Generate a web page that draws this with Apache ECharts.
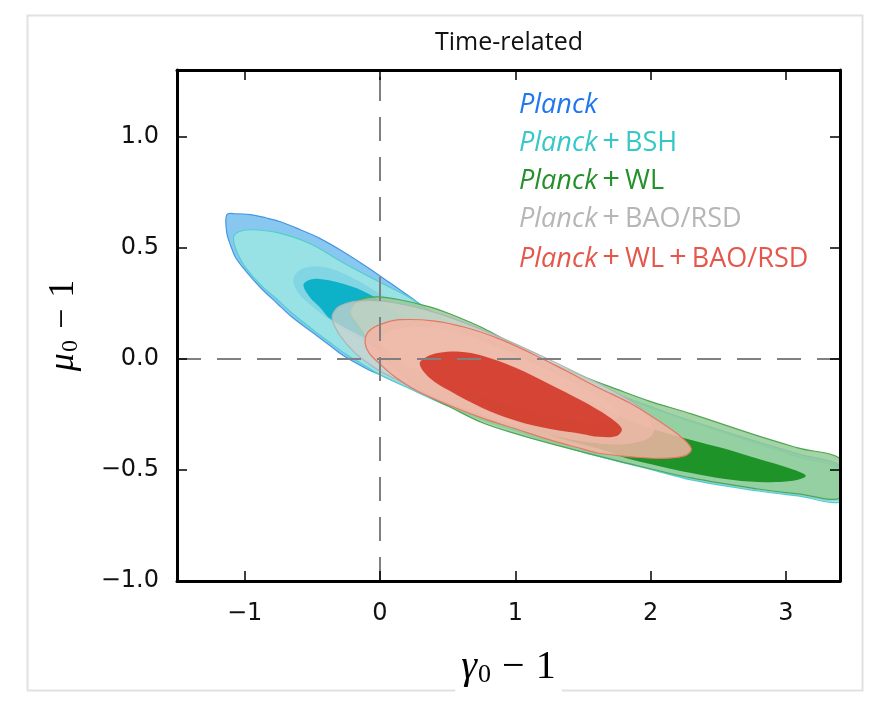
<!DOCTYPE html>
<html>
<head>
<meta charset="utf-8">
<script src="https://cdn.jsdelivr.net/npm/echarts@6/dist/echarts.min.js"></script>
<style>
  html, body { margin: 0; padding: 0; background: #fff; }
  #chart { width: 878px; height: 703px; }
</style>
</head>
<body>
<div id="chart"></div>
<script>
// Axis ranges and tick positions
const xRange = [-1.5, 3.4];
const yRange = [-1.0, 1.3];
const xTicks = [-1, 0, 1, 2, 3];
const yTicks = [-1, -0.5, 0, 0.5, 1];

// Confidence contours in (gamma0-1, mu0-1); each list is one closed boundary
const planckOuter = [
  [-1.132, 0.649], [-1.066, 0.653], [-0.956, 0.649], [-0.846, 0.635], [-0.735, 0.617],
  [-0.588, 0.581], [-0.441, 0.541], [-0.272, 0.482], [-0.110, 0.419], [0.074, 0.342],
  [0.221, 0.279], [0.368, 0.216], [0.515, 0.162], [0.757, 0.099], [1.007, 0.027],
  [1.25, -0.041], [1.493, -0.099], [1.743, -0.158], [1.985, -0.212], [2.301, -0.279],
  [2.794, -0.374], [3.088, -0.428], [3.419, -0.491], [3.419, -0.631], [3.088, -0.613],
  [2.794, -0.590], [2.301, -0.541], [1.985, -0.491], [1.743, -0.455], [1.493, -0.414],
  [1.25, -0.369], [1.007, -0.320], [0.757, -0.270], [0.515, -0.212], [0.221, -0.131],
  [0.0, -0.072], [-0.110, -0.041], [-0.257, 0.009], [-0.368, 0.059], [-0.515, 0.126],
  [-0.662, 0.194], [-0.757, 0.248], [-0.882, 0.320], [-0.993, 0.396], [-1.066, 0.455],
  [-1.103, 0.509], [-1.132, 0.568]
];
const planckInner = [
  [-0.640, 0.356], [-0.610, 0.392], [-0.551, 0.410], [-0.441, 0.415], [-0.272, 0.385],
  [-0.074, 0.320], [0.147, 0.235], [0.515, 0.100], [0.882, -0.020], [1.25, -0.130],
  [1.60, -0.240], [1.75, -0.320], [1.60, -0.360], [1.25, -0.280], [0.882, -0.190],
  [0.515, -0.100], [0.147, 0.000], [-0.184, 0.100], [-0.404, 0.190], [-0.551, 0.262],
  [-0.618, 0.310]
];
const bshOuter = [
  [-1.081, 0.550], [-1.044, 0.572], [-0.956, 0.581], [-0.757, 0.568], [-0.515, 0.518],
  [-0.272, 0.432], [-0.022, 0.351], [0.221, 0.275], [0.368, 0.216], [0.515, 0.158],
  [0.757, 0.090], [1.007, 0.023], [1.25, -0.045], [1.493, -0.104], [1.743, -0.162],
  [1.985, -0.216], [2.301, -0.284], [2.794, -0.383], [3.088, -0.441], [3.419, -0.505],
  [3.419, -0.640], [3.088, -0.617], [2.794, -0.595], [2.301, -0.545], [1.985, -0.495],
  [1.743, -0.459], [1.493, -0.419], [1.25, -0.374], [1.007, -0.324], [0.757, -0.275],
  [0.515, -0.216], [0.221, -0.135], [0.0, -0.072], [-0.147, -0.018], [-0.257, 0.023],
  [-0.368, 0.072], [-0.515, 0.140], [-0.662, 0.212], [-0.757, 0.266], [-0.882, 0.333],
  [-0.993, 0.410], [-1.044, 0.464], [-1.074, 0.509]
];
const bshInner = [
  [-0.566, 0.329], [-0.537, 0.351], [-0.463, 0.360], [-0.272, 0.338], [-0.074, 0.290],
  [0.147, 0.200], [0.515, 0.090], [0.882, -0.020], [1.25, -0.120], [1.45, -0.200],
  [1.25, -0.220], [0.882, -0.150], [0.515, -0.070], [0.147, 0.020], [-0.147, 0.105],
  [-0.368, 0.180], [-0.441, 0.230], [-0.515, 0.275]
];
const wlOuter = [
  [-0.221, 0.207], [-0.184, 0.252], [-0.132, 0.270], [-0.022, 0.279], [0.147, 0.266],
  [0.368, 0.234], [0.515, 0.203], [0.757, 0.140], [1.007, 0.059], [1.25, -0.014],
  [1.493, -0.077], [1.743, -0.135], [1.985, -0.189], [2.301, -0.248], [2.794, -0.347],
  [3.088, -0.401], [3.419, -0.459], [3.419, -0.622], [3.088, -0.608], [2.794, -0.586],
  [2.301, -0.536], [1.816, -0.468], [1.324, -0.392], [1.007, -0.338], [0.757, -0.288],
  [0.515, -0.216], [0.368, -0.171], [0.272, -0.122], [0.147, -0.059], [0.022, 0.018],
  [-0.096, 0.095], [-0.176, 0.162]
];
const wlInner = [
  [0.625, -0.090], [0.735, -0.009], [1.029, -0.063], [1.324, -0.135], [1.618, -0.212],
  [1.816, -0.270], [2.059, -0.324], [2.301, -0.365], [2.551, -0.405], [2.794, -0.450],
  [3.037, -0.495], [3.147, -0.527], [3.037, -0.550], [2.794, -0.554], [2.551, -0.541],
  [2.301, -0.514], [2.059, -0.482], [1.816, -0.446], [1.618, -0.405], [1.324, -0.356],
  [1.029, -0.288], [0.809, -0.212], [0.662, -0.144]
];
const baoOuter = [
  [-0.353, 0.180], [-0.324, 0.225], [-0.257, 0.248], [-0.147, 0.261], [0.0, 0.261],
  [0.147, 0.248], [0.368, 0.216], [0.588, 0.171], [0.882, 0.099], [1.176, 0.018],
  [1.471, -0.068], [1.765, -0.158], [1.949, -0.234], [2.022, -0.315], [1.971, -0.360],
  [1.765, -0.383], [1.493, -0.369], [1.25, -0.338], [1.007, -0.302], [0.757, -0.257],
  [0.515, -0.203], [0.294, -0.144], [0.110, -0.090], [-0.037, -0.041], [-0.184, 0.027],
  [-0.294, 0.104]
];
const baoInner = [
  [0.0, 0.081], [0.074, 0.126], [0.294, 0.144], [0.588, 0.113], [0.882, 0.050],
  [1.176, -0.032], [1.471, -0.122], [1.691, -0.198], [1.765, -0.257], [1.618, -0.288],
  [1.324, -0.270], [1.029, -0.225], [0.735, -0.167], [0.441, -0.090], [0.147, -0.009]
];
const combOuter = [
  [-0.110, 0.072], [-0.096, 0.113], [-0.037, 0.144], [0.037, 0.162], [0.147, 0.176],
  [0.390, 0.171], [0.640, 0.140], [0.882, 0.090], [1.125, 0.023], [1.375, -0.054],
  [1.618, -0.131], [1.860, -0.203], [2.059, -0.279], [2.206, -0.342], [2.301, -0.405],
  [2.250, -0.437], [2.059, -0.448], [1.838, -0.440], [1.618, -0.425], [1.493, -0.405],
  [1.25, -0.364], [1.007, -0.316], [0.757, -0.267], [0.515, -0.210], [0.272, -0.144],
  [0.110, -0.081], [0.0, -0.023], [-0.081, 0.027]
];
const combInner = [
  [0.294, -0.023], [0.346, 0.009], [0.441, 0.027], [0.588, 0.032], [0.757, 0.014],
  [1.007, -0.041], [1.25, -0.113], [1.493, -0.189], [1.691, -0.261], [1.787, -0.315],
  [1.75, -0.347], [1.618, -0.351], [1.493, -0.338], [1.25, -0.315], [1.007, -0.279],
  [0.757, -0.221], [0.515, -0.144], [0.368, -0.086]
];

// Legend entries: [italic part, following parts, colour]
const legendNames = [
  ['Planck', [], '#1f77ee'],
  ['Planck', ['BSH'], '#36c7c7'],
  ['Planck', ['WL'], '#24902a'],
  ['Planck', ['BAO/RSD'], '#b6b6b6'],
  ['Planck', ['WL', 'BAO/RSD'], '#e5574b']
];

function contourSeries(name, pts, fill, stroke) {
  return {
    type: 'custom',
    name: name,
    data: pts,
    clip: true,
    silent: true,
    z: 2,
    renderItem: function (params, api) {
      if (params.dataIndexInside !== 0) return null;
      const points = [];
      for (let i = 0; i < pts.length; i++) {
        points.push(api.coord([api.value(0, i), api.value(1, i)]));
      }
      const cs = params.coordSys;
      return {
        type: 'polygon',
        shape: { points: points, smooth: 0.35 },
        style: {
          fill: fill,
          stroke: stroke || null,
          lineWidth: stroke ? 1.2 : 0
        },
        clipPath: { type: 'rect', shape: { x: cs.x, y: cs.y, width: cs.width, height: cs.height } }
      };
    }
  };
}

const series = [
  contourSeries('Planck 2σ', planckOuter, 'rgb(136,200,240)', 'rgb(70,150,230)'),
  contourSeries('Planck 1σ', planckInner, 'rgb(60,160,235)'),
  contourSeries('Planck+BSH 2σ', bshOuter, 'rgba(159,237,223,0.7)', 'rgb(85,205,205)'),
  contourSeries('Planck+BSH 1σ', bshInner, 'rgba(0,174,197,0.9)'),
  contourSeries('Planck+WL 2σ', wlOuter, 'rgba(148,204,150,0.85)', 'rgb(80,165,85)'),
  contourSeries('Planck+WL 1σ', wlInner, 'rgba(0,133,10,0.8)'),
  contourSeries('Planck+BAO/RSD 2σ', baoOuter, 'rgba(205,210,205,0.75)', 'rgb(175,180,178)'),
  contourSeries('Planck+BAO/RSD 1σ', baoInner, 'rgba(225,226,222,0.55)'),
  contourSeries('Planck+WL+BAO/RSD 2σ', combOuter, 'rgba(244,181,164,0.85)', 'rgb(228,120,100)'),
  contourSeries('Planck+WL+BAO/RSD 1σ', combInner, 'rgba(209,55,39,0.9)'),
  {
    type: 'line',
    name: 'reference',
    data: [],
    z: 5,
    markLine: {
      silent: true,
      symbol: 'none',
      label: { show: false },
      lineStyle: { type: [24, 16], color: '#808080', width: 2 },
      data: [{ xAxis: 0 }, { yAxis: 0 }]
    }
  }
];

const minus = s => s.replace('-', '\u2212');
const tickFont = { fontFamily: 'DejaVu Sans', fontSize: 24, color: '#111' };
const tickStyle = { show: true, inside: true, length: 10, lineStyle: { color: '#000', width: 1.5 } };
const frameLine = { show: true, onZero: false, lineStyle: { color: '#000', width: 3 } };

function legendGraphic() {
  const baseY = [105.5, 143, 181, 219.5, 259];
  return legendNames.map(function (entry, k) {
    const parts = ['{it|' + entry[0] + '}'];
    entry[1].forEach(function (p) { parts.push('{op|+}{rm|' + p + '}'); });
    const col = entry[2];
    return {
      type: 'text',
      x: 519,
      y: baseY[k],
      z: 50,
      style: {
        text: parts.join(''),
        verticalAlign: 'middle',
        rich: {
          it: { fontFamily: 'Open Sans', fontStyle: 'italic', fontSize: 27, fill: col, color: col },
          op: { fontFamily: 'Open Sans', fontSize: 31, fill: col, color: col, padding: [0, 5, 0, 5] },
          rm: { fontFamily: 'Open Sans', fontSize: 27, fill: col, color: col }
        }
      }
    };
  });
}

const serifLabel = function (size, subSize) {
  return {
    i: { fontFamily: 'Liberation Serif', fontStyle: 'italic', fontSize: size, color: '#000', verticalAlign: 'middle' },
    s: { fontFamily: 'Liberation Serif', fontSize: subSize, color: '#000', verticalAlign: 'middle', padding: [15, 0, 0, 1] },
    m: { fontFamily: 'Liberation Serif', fontSize: size, color: '#000', verticalAlign: 'middle', padding: [0, 11, 0, 11] },
    n: { fontFamily: 'Liberation Serif', fontSize: size, color: '#000', verticalAlign: 'middle' }
  };
};

const chart = echarts.init(document.getElementById('chart'), null, { renderer: 'canvas' });
chart.setOption({
  animation: false,
  backgroundColor: '#fff',
  title: {
    text: 'Time-related',
    left: 509,
    top: 30,
    textAlign: 'center',
    padding: 0,
    textStyle: { fontFamily: 'Open Sans', fontSize: 25, fontWeight: 'normal', color: '#111' }
  },
  grid: { left: 177, top: 70, width: 663, height: 511, containLabel: false, outerBoundsMode: 'none' },
  xAxis: [
    {
      type: 'value', min: xRange[0], max: xRange[1], position: 'bottom', z: 10,
      axisLine: frameLine,
      axisTick: Object.assign({ customValues: xTicks }, tickStyle),
      axisLabel: Object.assign({ customValues: xTicks, margin: 21, formatter: v => minus(String(v)) }, tickFont),
      splitLine: { show: false },
      name: '{i|γ}{s|0}{m|−}{n|1}',
      nameLocation: 'middle',
      nameGap: 64,
      nameTextStyle: {
        backgroundColor: '#fff',
        padding: [2, 6, 18, 6],
        rich: serifLabel(40, 26)
      }
    },
    {
      type: 'value', min: xRange[0], max: xRange[1], position: 'top', z: 10,
      axisLine: frameLine,
      axisTick: Object.assign({ customValues: xTicks }, tickStyle),
      axisLabel: { show: false },
      splitLine: { show: false }
    }
  ],
  yAxis: [
    {
      type: 'value', min: yRange[0], max: yRange[1], position: 'left', z: 10,
      axisLine: frameLine,
      axisTick: Object.assign({ customValues: yTicks }, tickStyle),
      axisLabel: Object.assign({ customValues: yTicks, margin: 18, formatter: v => minus(v.toFixed(1)) }, tickFont),
      splitLine: { show: false },
      name: '{i|μ}{s|0}{m|−}{n|1}',
      nameLocation: 'middle',
      nameRotate: 90,
      nameGap: 94,
      nameTextStyle: { rich: serifLabel(36, 24) }
    },
    {
      type: 'value', min: yRange[0], max: yRange[1], position: 'right', z: 10,
      axisLine: frameLine,
      axisTick: Object.assign({ customValues: yTicks }, tickStyle),
      axisLabel: { show: false },
      splitLine: { show: false }
    }
  ],
  graphic: {
    elements: [
      {
        type: 'rect',
        z: -10,
        silent: true,
        shape: { x: 27.5, y: 15.5, width: 835, height: 675 },
        style: { fill: null, stroke: '#e1e1e1', lineWidth: 2 }
      }
    ].concat(legendGraphic())
  },
  series: series
});
</script>
</body>
</html>
